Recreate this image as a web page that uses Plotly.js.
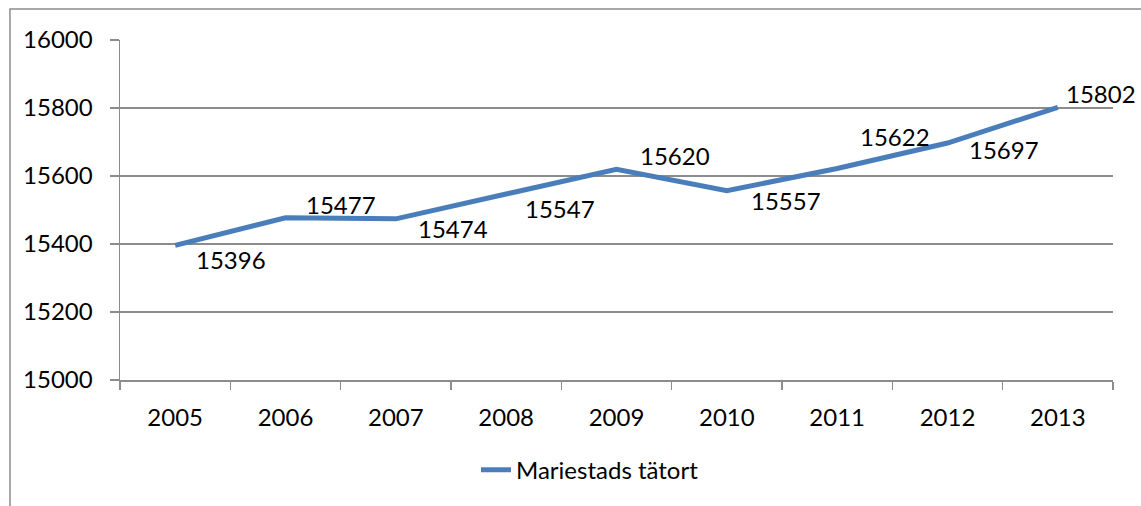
<!DOCTYPE html>
<html>
<head>
<meta charset="utf-8">
<script src="https://cdn.plot.ly/plotly-3.0.1.min.js"></script>
<style>
html,body{margin:0;padding:0;background:#fff;}
#chart{width:1141px;height:506px;}
</style>
</head>
<body>
<div id="chart"></div>
<script>
const years = ['2005','2006','2007','2008','2009','2010','2011','2012','2013'];
const population = [15396, 15477, 15474, 15547, 15620, 15557, 15622, 15697, 15802];
const seriesName = 'Mariestads tätort';
const yTicks = [15000, 15200, 15400, 15600, 15800, 16000];
// label offsets (pixels) relative to each point
const labelDx = [56, 55, 57, 54, 58, 59, 58, 56, 43];
const labelDy = [-14, 13, -10, -14, 14, -10, 32, -6, 14];

const font = 'Lato, "Open Sans", sans-serif';
const grid = '#8c8c8c';
const fs = 24;

const annotations = years.map((y, i) => ({
  x: i, y: population[i], xref: 'x', yref: 'y',
  text: String(population[i]), showarrow: false,
  xanchor: 'center', yanchor: 'middle',
  xshift: labelDx[i], yshift: labelDy[i],
  font: {family: font, size: fs, color: '#000'}
}));

const trace = {
  x: years, y: population, type: 'scatter', mode: 'lines',
  name: seriesName,
  line: {color: '#4A7EBB', width: 5}
};

const layout = {
  width: 1141, height: 506,
  margin: {l: 120, r: 28, t: 40, b: 126},
  paper_bgcolor: '#fff', plot_bgcolor: '#fff',
  font: {family: font, size: fs, color: '#000'},
  showlegend: true,
  legend: {orientation: 'h', x: 0.3585, xanchor: 'left', y: -0.265, yanchor: 'middle',
           font: {family: font, size: fs, color: '#000'}},
  xaxis: {
    type: 'category', range: [-0.5, 8.5],
    showgrid: false, showline: true, linecolor: grid, linewidth: 1.5,
    ticks: 'outside', tickson: 'boundaries', ticklen: 8, tickcolor: grid, tickwidth: 1.5,
    ticklabelstandoff: 16, zeroline: false, fixedrange: true
  },
  yaxis: {
    range: [15000, 16000], tickvals: yTicks, ticktext: yTicks.map(String),
    showgrid: true, gridcolor: grid, gridwidth: 1.5,
    showline: true, linecolor: grid, linewidth: 1.5,
    ticks: 'outside', ticklen: 9, tickcolor: grid, tickwidth: 1.5,
    ticklabelstandoff: 12, zeroline: false, fixedrange: true
  },
  annotations: annotations,
  shapes: [{
    type: 'rect', xref: 'paper', yref: 'paper',
    x0: -0.1108, x1: 1.2, y0: -0.5, y1: 1.0912,
    line: {color: '#8c8c8c', width: 1.5}, fillcolor: 'rgba(0,0,0,0)', layer: 'below'
  }]
};

Plotly.newPlot('chart', [trace], layout, {displayModeBar: false, staticPlot: true});
</script>
</body>
</html>
